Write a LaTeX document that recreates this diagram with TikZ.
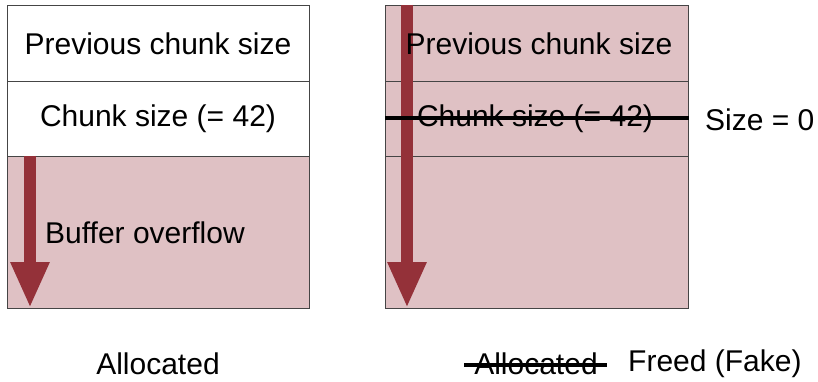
\documentclass[tikz,border=0pt]{standalone}
\usepackage{fontspec}
\setmainfont{Liberation Sans}
\usetikzlibrary{arrows.meta}
\definecolor{cellpink}{HTML}{DFC1C4}
\definecolor{arrowred}{HTML}{943139}
\definecolor{edgegray}{HTML}{454545}
\begin{document}
\begin{tikzpicture}[x=1pt,y=-1pt,
  cell/.style={draw=edgegray,line width=1.3pt,inner sep=0pt,anchor=north west},
  lbl/.style={font=\fontsize{30}{35}\selectfont,inner sep=0pt},
  fatarrow/.style={draw=arrowred,line width=12.5pt,-{Triangle[width=36pt,length=46pt]},arrowred},
  strike/.style={line width=4.2pt,black}]
\useasboundingbox (0,0) rectangle (818,382);
% left chunk
\node[cell,fill=white,minimum width=302pt,minimum height=76pt] (lprev) at (7,5) {};
\node[cell,fill=white,minimum width=302pt,minimum height=75pt] (lchunk) at (7,81) {};
\node[cell,fill=cellpink,minimum width=302pt,minimum height=152pt] (lbody) at (7,156) {};
\node[lbl] (lprevt) at (158,44) {Previous chunk size};
\node[lbl] (lchunkt) at (158,119) {Chunk size (= 42)};
\coordinate (la1) at (30,156);
\coordinate (la2) at (30,308);
\draw[fatarrow] (la1) -- (la2);
\node[lbl,anchor=west] (lbuf) at (45,233) {Buffer overflow};
\node[lbl] (lalloc) at (158,364) {Allocated};
% right chunk
\node[cell,fill=cellpink,minimum width=303pt,minimum height=76pt] (rprev) at (385,5) {};
\node[cell,fill=cellpink,minimum width=303pt,minimum height=75pt] (rchunk) at (385,81) {};
\node[cell,fill=cellpink,minimum width=303pt,minimum height=152pt] (rbody) at (385,156) {};
\coordinate (ra1) at (407,5);
\coordinate (ra2) at (407,308);
\draw[fatarrow] (ra1) -- (ra2);
\node[lbl] (rprevt) at (539,44) {Previous chunk size};
\node[lbl] (rchunkt) at (535,119) {Chunk size (= 42)};
\draw[strike] (rchunk.west |- 0,118) -- (rchunk.east |- 0,118);
\node[lbl,anchor=west] (rsize) at (705,120) {Size = 0};
\node[lbl] (ralloc) at (536,364) {Allocated};
\draw[strike] ([xshift=-10pt]ralloc.west |- 0,365) -- ([xshift=9pt]ralloc.east |- 0,365);
\node[lbl,anchor=west] (rfreed) at (628,364) {Freed (Fake)};
\end{tikzpicture}
\end{document}
